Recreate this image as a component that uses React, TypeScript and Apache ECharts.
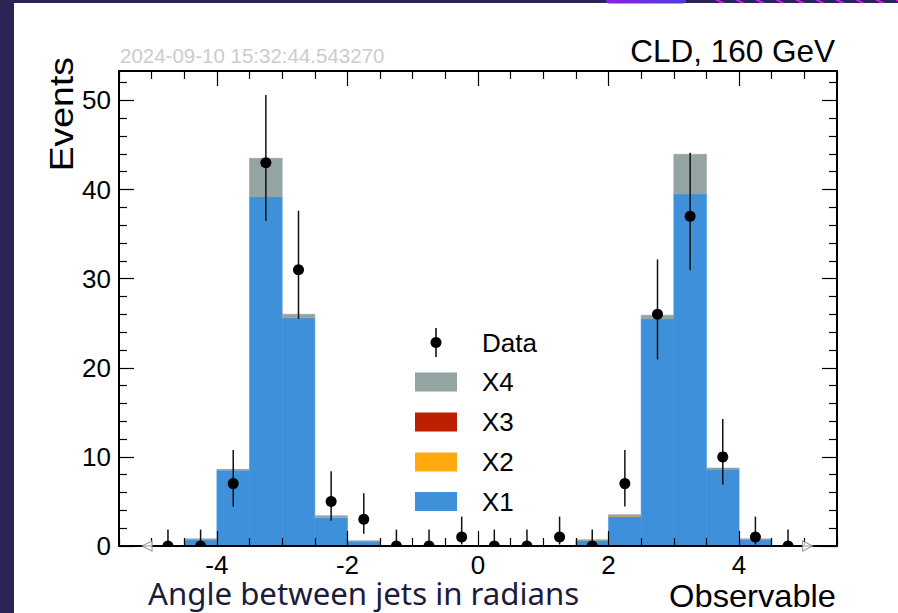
import React, { useEffect, useRef } from 'react';
import * as echarts from 'echarts';

// ---- data ----
const binEdges = [-5, -4.5, -4, -3.5, -3, -2.5, -2, -1.5, -1, -0.5, 0, 0.5, 1, 1.5, 2, 2.5, 3, 3.5, 4, 4.5, 5];
const x1Values = [0, 0.7, 8.5, 39.2, 25.6, 3.2, 0.5, 0, 0, 0, 0, 0, 0, 0.6, 3.3, 25.5, 39.5, 8.6, 0.7, 0];
const x2Values = [0, 0, 0, 0, 0, 0.05, 0, 0, 0, 0, 0, 0, 0, 0, 0.05, 0, 0, 0, 0, 0];
const x3Values = [0, 0, 0, 0, 0, 0, 0, 0, 0, 0, 0, 0, 0, 0, 0, 0, 0, 0, 0, 0];
const x4Values = [0, 0.1, 0.1, 4.3, 0.4, 0.15, 0.1, 0, 0, 0, 0, 0, 0, 0.1, 0.15, 0.4, 4.45, 0.15, 0.1, 0];
const dataCounts = [0, 0, 7, 43, 31, 5, 3, 0, 0, 1, 0, 0, 1, 0, 7, 26, 37, 10, 1, 0];
const dataLow = [0, 0, 4.42, 36.47, 25.47, 2.84, 1.37, 0, 0, 0.17, 0, 0, 0.17, 0, 4.42, 20.94, 30.95, 6.9, 0.17, 0];
const dataHigh = [1.84, 1.84, 10.76, 50.61, 37.62, 8.38, 5.92, 1.84, 1.84, 3.3, 1.84, 1.84, 3.3, 1.84, 10.76, 32.16, 44.14, 14.26, 3.3, 1.84];
const flowMarkers = [-5.07, 5.05];

const xMajorTicks = [-4, -2, 0, 2, 4];
const xMinorTicks = [-5.5, -5, -4.5, -3.5, -3, -2.5, -1.5, -1, -0.5, 0.5, 1, 1.5, 2.5, 3, 3.5, 4.5, 5, 5.5];
const yMajorTicks = [0, 10, 20, 30, 40, 50];
const yMinorTicks = [2, 4, 6, 8, 12, 14, 16, 18, 22, 24, 26, 28, 32, 34, 36, 38, 42, 44, 46, 48, 52];

const stackNames = ['X1', 'X2', 'X3', 'X4'];
const stackColors = ['#3f90da', '#ffa90e', '#bd1f01', '#94a4a2'];
const legendOrder = ['X4', 'X3', 'X2', 'X1'];

const FONT = '"Liberation Sans", Arial, sans-serif';
const X_MIN = -5.5;
const X_MAX = 5.5;
const Y_MIN = 0;
const Y_MAX = 53.3;

function xAxisDef(position: string, ticks: number[], len: number, showLine: boolean, labels: boolean) {
  return {
    type: 'value',
    min: X_MIN,
    max: X_MAX,
    position,
    z: 10,
    axisLine: { show: showLine, onZero: false, lineStyle: { color: '#000', width: 2 } },
    axisTick: { show: true, inside: true, length: len, customValues: ticks, lineStyle: { color: '#000', width: 1.2 } },
    axisLabel: labels
      ? { show: true, customValues: ticks, margin: 8, fontSize: 26, lineHeight: 22, fontFamily: FONT, color: '#000' }
      : { show: false },
    splitLine: { show: false },
  };
}

function yAxisDef(position: string, ticks: number[], len: number, showLine: boolean, labels: boolean) {
  return {
    type: 'value',
    min: Y_MIN,
    max: Y_MAX,
    position,
    z: 10,
    axisLine: { show: showLine, onZero: false, lineStyle: { color: '#000', width: 2 } },
    axisTick: { show: true, inside: true, length: len, customValues: ticks, lineStyle: { color: '#000', width: 1.2 } },
    axisLabel: labels
      ? { show: true, customValues: ticks, margin: 8, fontSize: 26, lineHeight: 24, fontFamily: FONT, color: '#000' }
      : { show: false },
    splitLine: { show: false },
  };
}

export default function App() {
  const ref = useRef<HTMLDivElement>(null);

  useEffect(() => {
    if (!ref.current) return;
    const chart = echarts.init(ref.current, null, { renderer: 'svg' });

    const stackValues = [x1Values, x2Values, x3Values, x4Values];
    const cumulative = binEdges.slice(0, -1).map(() => 0);
    const barSeries = stackValues.map((vals, si) => {
      const data = vals.map((v, i) => {
        const bottom = cumulative[i];
        const top = bottom + v;
        cumulative[i] = top;
        return [binEdges[i], binEdges[i + 1], bottom, top];
      });
      return {
        type: 'custom',
        name: stackNames[si],
        xAxisIndex: 0,
        yAxisIndex: 0,
        z: 2,
        clip: true,
        itemStyle: { color: stackColors[si] },
        encode: { x: [0, 1], y: [2, 3] },
        data,
        renderItem: (params: any, api: any) => {
          const x0 = api.value(0);
          const xe = api.value(1);
          const y0 = api.value(2);
          const y1 = api.value(3);
          if (y1 - y0 <= 0) return null;
          const p0 = api.coord([x0, y1]);
          const p1 = api.coord([xe, y0]);
          return {
            type: 'rect',
            shape: { x: p0[0], y: p0[1], width: p1[0] - p0[0], height: p1[1] - p0[1] },
            style: { fill: stackColors[si], stroke: stackColors[si], lineWidth: 0.6 },
          };
        },
      };
    });

    const pointData = dataCounts.map((n, i) => [
      (binEdges[i] + binEdges[i + 1]) / 2,
      n,
      dataLow[i],
      dataHigh[i],
    ]);

    const dataSeries = {
      type: 'custom',
      name: 'Data',
      xAxisIndex: 0,
      yAxisIndex: 0,
      z: 12,
      clip: true,
      encode: { x: 0, y: [1, 2, 3] },
      data: pointData,
      renderItem: (params: any, api: any) => {
        const x = api.value(0);
        const pc = api.coord([x, api.value(1)]);
        const pl = api.coord([x, api.value(2)]);
        const ph = api.coord([x, api.value(3)]);
        return {
          type: 'group',
          children: [
            {
              type: 'line',
              shape: { x1: pl[0], y1: pl[1], x2: ph[0], y2: ph[1] },
              style: { stroke: '#111', lineWidth: 1.5 },
            },
            {
              type: 'circle',
              shape: { cx: pc[0], cy: pc[1], r: 5.5 },
              style: { fill: '#000' },
            },
          ],
        };
      },
    };

    const flowSeries = {
      type: 'scatter',
      name: 'flow',
      xAxisIndex: 0,
      yAxisIndex: 0,
      z: 20,
      symbol: 'triangle',
      symbolSize: [10, 10],
      itemStyle: { color: '#fff', borderColor: '#8a8a8a', borderWidth: 1.2 },
      data: flowMarkers.map((x) => ({ value: [x, 0], symbolRotate: x < 0 ? 90 : -90 })),
      silent: true,
    };

    // legend + decorations
    const graphics: any[] = [];
    graphics.push({ type: 'rect', shape: { x: 0, y: 0, width: 14, height: 613 }, style: { fill: '#2b2557' }, z: 100 });
    graphics.push({ type: 'rect', shape: { x: 0, y: 0, width: 898, height: 3 }, style: { fill: '#2b2557' }, z: 100 });
    graphics.push({
      type: 'rect',
      shape: { x: 606, y: 0, width: 80, height: 3.5, r: [0, 0, 4, 4] },
      style: {
        fill: new echarts.graphic.LinearGradient(0, 0, 1, 0, [
          { offset: 0, color: '#8d1fe0' },
          { offset: 1, color: '#4f3be0' },
        ]),
      },
      z: 101,
    });
    for (let sx = 715; sx < 898; sx += 20) {
      graphics.push({
        type: 'polygon',
        shape: { points: [[sx, 0], [sx + 4, 0], [sx + 10, 3], [sx + 6, 3]] },
        style: { fill: '#d21fe6' },
        z: 101,
      });
    }

    // legend
    const legX = 415;
    const legText = 482;
    const rowY = [342.5, 382, 422, 462, 501.5];
    graphics.push({ type: 'line', shape: { x1: 436, y1: 328, x2: 436, y2: 357 }, style: { stroke: '#000', lineWidth: 1.5 }, z: 50 });
    graphics.push({ type: 'circle', shape: { cx: 436, cy: rowY[0], r: 5.5 }, style: { fill: '#000' }, z: 51 });
    graphics.push({ type: 'text', x: legText, y: rowY[0], style: { text: 'Data', font: `26px ${FONT}`, fill: '#000', verticalAlign: 'middle' }, z: 50 });
    legendOrder.forEach((nm, k) => {
      const idx = stackNames.indexOf(nm);
      graphics.push({ type: 'rect', shape: { x: legX, y: rowY[k + 1] - 9.5, width: 42, height: 19 }, style: { fill: stackColors[idx] }, z: 50 });
      graphics.push({ type: 'text', x: legText, y: rowY[k + 1], style: { text: nm, font: `26px ${FONT}`, fill: '#000', verticalAlign: 'middle' }, z: 50 });
    });

    // texts
    graphics.push({ type: 'text', x: 120, y: 55, style: { text: '2024-09-10 15:32:44.543270', font: `20.5px ${FONT}`, fill: '#cccccc', verticalAlign: 'middle' }, z: 50 });
    graphics.push({ type: 'text', x: 835, y: 51, style: { text: 'CLD, 160 GeV', font: `31.5px ${FONT}`, fill: '#000', align: 'right', verticalAlign: 'middle' }, z: 50 });
    graphics.push({ type: 'text', x: 62, y: 57, rotation: Math.PI / 2, scaleX: 1.1, style: { text: 'Events', font: `34px ${FONT}`, fill: '#000', align: 'right', verticalAlign: 'middle' }, z: 50 });
    graphics.push({ type: 'text', x: 836, y: 596, scaleX: 1.02, style: { text: 'Observable', font: `32px ${FONT}`, fill: '#000', align: 'right', verticalAlign: 'middle', lineHeight: 26 }, z: 50 });
    graphics.push({ type: 'text', x: 148, y: 593, scaleX: 1.04, style: { text: 'Angle between jets in radians', font: `30px "Noto Sans", sans-serif`, fill: '#1d1b3b', verticalAlign: 'middle', lineHeight: 26 }, z: 50 });

    const option: any = {
      animation: false,
      backgroundColor: '#ffffff',
      grid: { left: 119, right: 61, top: 71, bottom: 67, containLabel: false },
      xAxis: [
        xAxisDef('bottom', xMajorTicks, 15, true, true),
        xAxisDef('bottom', xMinorTicks, 8, false, false),
        xAxisDef('top', xMajorTicks, 15, true, false),
        xAxisDef('top', xMinorTicks, 8, false, false),
      ],
      yAxis: [
        yAxisDef('left', yMajorTicks, 15, true, true),
        yAxisDef('left', yMinorTicks, 8, false, false),
        yAxisDef('right', yMajorTicks, 15, true, false),
        yAxisDef('right', yMinorTicks, 8, false, false),
      ],
      series: [...barSeries, dataSeries, flowSeries],
      graphic: graphics,
    };

    chart.setOption(option);
    return () => chart.dispose();
  }, []);

  return <div ref={ref} style={{ position: 'absolute', left: 0, top: 0, width: 898, height: 613 }} />;
}
